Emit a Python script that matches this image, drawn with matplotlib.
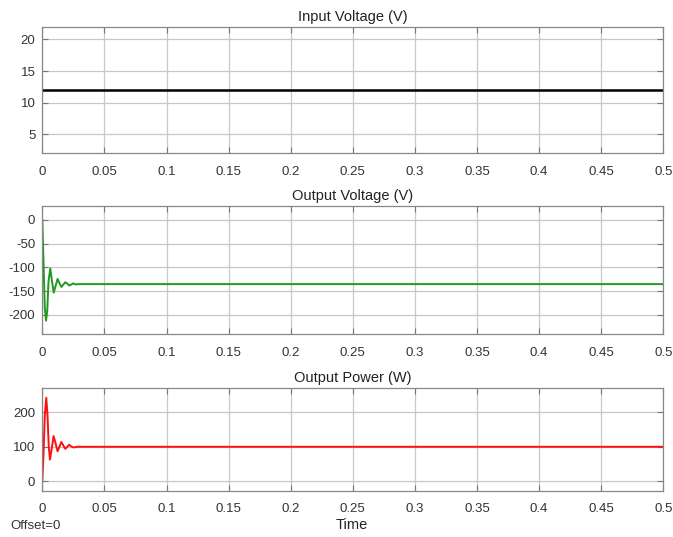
import numpy as np
import matplotlib
matplotlib.use("Agg")
import matplotlib.pyplot as plt
from matplotlib.ticker import FormatStrFormatter

# values
t_in = [0.0, 0.5]
v_in = [12.0, 12.0]

t_vout = [0, 0.001, 0.002, 0.003, 0.004, 0.005, 0.0064, 0.0078, 0.0092, 0.0108,
          0.0123, 0.0138, 0.0154, 0.0170, 0.0185, 0.0201, 0.0217, 0.0233, 0.0249,
          0.0265, 0.030, 0.5]
v_out = [0, -90, -185, -212, -190, -130, -102, -128, -153, -138,
         -124, -133, -141, -136, -131, -134, -138, -136, -133.5,
         -135.5, -135, -135]

t_pout = [0, 0.001, 0.002, 0.0032, 0.0042, 0.0052, 0.0062, 0.0076, 0.0091, 0.0107,
          0.0123, 0.0138, 0.0153, 0.0169, 0.0185, 0.0201, 0.0217, 0.0233, 0.025,
          0.028, 0.5]
p_out = [0, 80, 190, 242, 190, 100, 63, 95, 131, 110,
         87, 100, 114, 104, 94, 100, 106, 101, 98,
         100, 100]

x_ticks = [0, 0.05, 0.1, 0.15, 0.2, 0.25, 0.3, 0.35, 0.4, 0.45, 0.5]
titles = ["Input Voltage (V)", "Output Voltage (V)", "Output Power (W)"]

plt.rcParams['font.family'] = ['Liberation Sans', 'DejaVu Sans']
plt.rcParams['axes.unicode_minus'] = False

W, H = 673, 537
fig = plt.figure(figsize=(W / 100, H / 100), dpi=100)

def box(top, bottom):
    return [42.3 / W, 1 - bottom / H, (663.3 - 42.3) / W, (bottom - top) / H]

ax1 = fig.add_axes(box(26.7, 153.3))
ax2 = fig.add_axes(box(205.7, 334))
ax3 = fig.add_axes(box(387.7, 491))

ax1.plot(t_in, v_in, color="black", lw=1.8)
ax2.plot(t_vout, v_out, color="#1f9a1f", lw=1.4)
ax3.plot(t_pout, p_out, color="#ff1010", lw=1.4)

ax1.set_ylim(2, 22)
ax1.set_yticks([5, 10, 15, 20])
ax2.set_ylim(-240, 30)
ax2.set_yticks([-200, -150, -100, -50, 0])
ax3.set_ylim(-28, 271)
ax3.set_yticks([0, 100, 200])

for ax, ttl in zip([ax1, ax2, ax3], titles):
    ax.set_xlim(0, 0.5)
    ax.set_xticks(x_ticks)
    ax.xaxis.set_major_formatter(FormatStrFormatter('%g'))
    ax.grid(True, color="#c8c8c8", lw=0.9)
    ax.set_axisbelow(True)
    ax.tick_params(direction="in", top=True, right=True, length=4, width=0.8,
                   colors="#777777", labelcolor="#333333", labelsize=9.5)
    ax.tick_params(axis="x", pad=9)
    ax.tick_params(axis="y", pad=5)
    for s in ax.spines.values():
        s.set_color("#888888")
        s.set_linewidth(0.9)
    ax.set_title(ttl, fontsize=10.5, color="#222222", pad=4)

fig.text(10 / W, 1 - 526 / H, "Offset=0", fontsize=9.5, color="#333333", va="center")
fig.text(352 / W, 1 - 525 / H, "Time", fontsize=10.5, color="#222222", ha="center", va="center")

fig.savefig("out.png", dpi=100)
